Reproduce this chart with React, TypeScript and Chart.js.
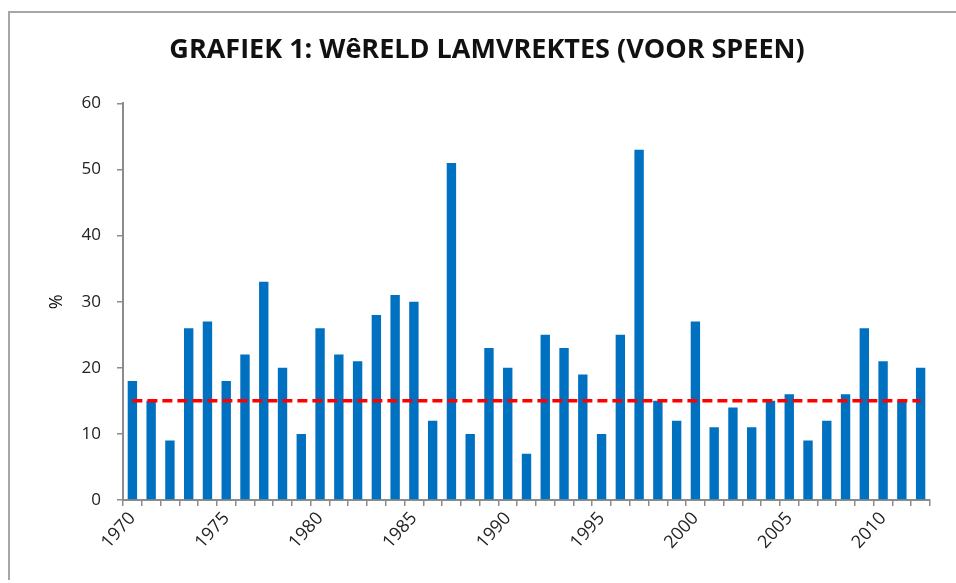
import React, { useEffect, useRef } from "react";
import { Chart, registerables } from "chart.js";

Chart.register(...registerables);

const years: string[] = [
  "1970","1971","1972","1973","1974","1975","1976","1977","1978","1979",
  "1980","1981","1982","1983","1984","1985","1986","1987","1988","1989",
  "1990","1991","1992","1993","1994","1995","1996","1997","1998","1999",
  "2000","2001","2002","2003","2004","2005","2006","2007","2008","2009",
  "2010","2011","2012",
];

const lambingRate: number[] = [
  18, 15, 9, 26, 27, 18, 22, 33, 20, 10,
  26, 22, 21, 28, 31, 30, 12, 51, 10, 23,
  20, 7, 25, 23, 19, 10, 25, 53, 15, 12,
  27, 11, 14, 11, 15, 16, 9, 12, 16, 26,
  21, 15, 20,
];

const averageLevel = 15;
const averageLine: number[] = years.map(() => averageLevel);

const yTicks: number[] = [0, 10, 20, 30, 40, 50, 60];

const FONT = "'Open Sans', 'Liberation Sans', sans-serif";

const titleShift = {
  id: "titleShift",
  afterLayout(chart: any) {
    if (chart.titleBlock) {
      chart.titleBlock.left += 36;
    }
  },
};

export default function App() {
  const ref = useRef<HTMLCanvasElement | null>(null);

  useEffect(() => {
    document.body.style.margin = "0";
    const ctx = ref.current;
    if (!ctx) return;
    const chart = new Chart(ctx, {
      type: "bar",
      data: {
        labels: years,
        datasets: [
          {
            type: "line",
            label: "Gemiddeld",
            data: averageLine,
            borderColor: "#FF0000",
            borderWidth: 3.5,
            borderDash: [10, 5],
            pointRadius: 0,
            fill: false,
            order: 0,
          } as any,
          {
            type: "bar",
            label: "Lamvrektes",
            data: lambingRate,
            backgroundColor: "#0070C0",
            borderWidth: 0,
            categoryPercentage: 1,
            barPercentage: 0.5,
            order: 1,
          },
        ],
      },
      plugins: [titleShift],
      options: {
        animation: false,
        responsive: false,
        maintainAspectRatio: false,
        layout: { padding: { left: 8, right: 26, top: 0, bottom: 0 } },
        plugins: {
          legend: { display: false },
          tooltip: { enabled: false },
          title: {
            display: true,
            text: "GRAFIEK 1: WêRELD LAMVREKTES (VOOR SPEEN)",
            color: "#111",
            font: { family: FONT, size: 27, weight: "bold" },
            padding: { top: 34, bottom: 37 },
          },
        },
        scales: {
          x: {
            offset: true,
            grid: {
              offset: true,
              drawOnChartArea: false,
              drawTicks: true,
              tickLength: 6,
              color: "#8c8c8c",
              lineWidth: 1.5,
            },
            border: { display: true, color: "#8c8c8c", width: 2 },
            ticks: {
              autoSkip: false,
              maxRotation: 48,
              minRotation: 48,
              color: "#222",
              font: { family: FONT, size: 18 },
              padding: 2,
              callback: (_v: any, i: number) =>
                Number(years[i]) % 5 === 0 ? years[i] : "",
            },
            afterFit: (scale: any) => {
              scale.height = 83;
            },
          },
          y: {
            min: 0,
            max: 60,
            afterBuildTicks: (scale: any) => {
              scale.ticks = yTicks.map((v) => ({ value: v }));
            },
            grid: {
              drawOnChartArea: false,
              drawTicks: true,
              tickLength: 6,
              color: "#8c8c8c",
              lineWidth: 1.5,
            },
            border: { display: true, color: "#8c8c8c", width: 2 },
            ticks: {
              color: "#222",
              font: { family: FONT, size: 17 },
              padding: 16,
            },
            title: {
              display: true,
              text: "%",
              color: "#111",
              font: { family: FONT, size: 18 },
              padding: { top: 38, bottom: 0 },
            },
            afterFit: (scale: any) => {
              scale.width = 115;
            },
          },
        },
      } as any,
    });
    return () => chart.destroy();
  }, []);

  return (
    <div style={{ position: "relative", width: 956, height: 583, overflow: "hidden", background: "#fff" }}>
      <div
        style={{
          position: "absolute",
          left: 8,
          top: 11,
          width: 1000,
          height: 569,
          borderLeft: "2px solid #a6a6a6",
          borderTop: "2px solid #a6a6a6",
          boxSizing: "border-box",
        }}
      />
      <canvas
        ref={ref}
        width={956}
        height={583}
        style={{ position: "absolute", left: 0, top: 0, width: 956, height: 583 }}
      />
    </div>
  );
}
